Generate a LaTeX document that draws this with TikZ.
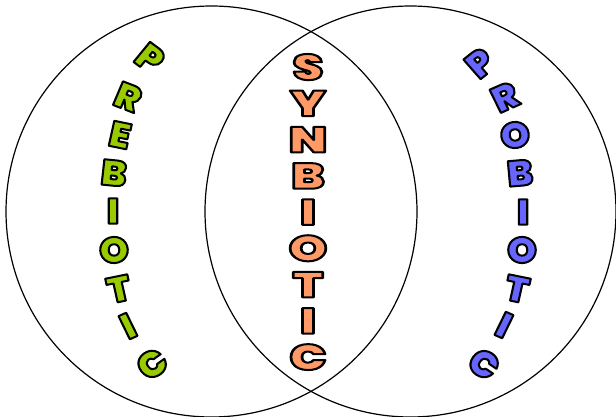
\documentclass[tikz,border=0pt]{standalone}
\usepackage{fontspec}
\usetikzlibrary{positioning}
\newfontfamily\vennfont{Poppins Black}
\definecolor{preGreen}{RGB}{153,204,0}
\definecolor{synOrange}{RGB}{255,153,102}
\definecolor{proBlue}{RGB}{102,102,255}
\newcommand\outlined[1]{\special{pdf:literal direct 0 G 2 w 1 j 2 Tr}#1\special{pdf:literal direct 0 Tr}}

\begin{document}
\begin{tikzpicture}[
            x=1pt, y=-1pt,
            ring/.style={draw, circle, line width=1.2pt, minimum size=411pt, inner sep=0pt},
            letter/.style={inner sep=0pt, text=#1, xscale=1.05, font=\vennfont\fontsize{36}{36.25}\selectfont}
        ]
            \useasboundingbox (0,0) rectangle (616,417);
            \node[ring] (prering) at (211.5,211.5) {};
            \node[ring] (proring) at (410.5,211.5) {};

            \foreach \ch/\px/\py/\ang [count=\i] in {P/150/58/-38, R/128/97/-22, E/120/135/-12, B/114/173/-6, I/113/211/0, O/114/250/3, T/119/289/12, I/128/326/25, C/152/364/37}
                \node[letter=preGreen, rotate=\ang] (pre\i) at (\px,\py) {\outlined{\ch}};

            \foreach \ch/\px/\py/\ang [count=\i] in {P/480/63/40, R/505/97/25, O/515/135/8, B/520/173/5, I/523/212/0, O/522/250/0, T/517/289/-12, I/504/325/-25, C/484/364/-35}
                \node[letter=proBlue, rotate=\ang] (pro\i) at (\px,\py) {\outlined{\ch}};

            \node[letter=synOrange, xscale=1.3, align=center] (syn) at (308,212) {\outlined{S\\Y\\N\\B\\I\\O\\T\\I\\C}};
        \end{tikzpicture}
\end{document}
